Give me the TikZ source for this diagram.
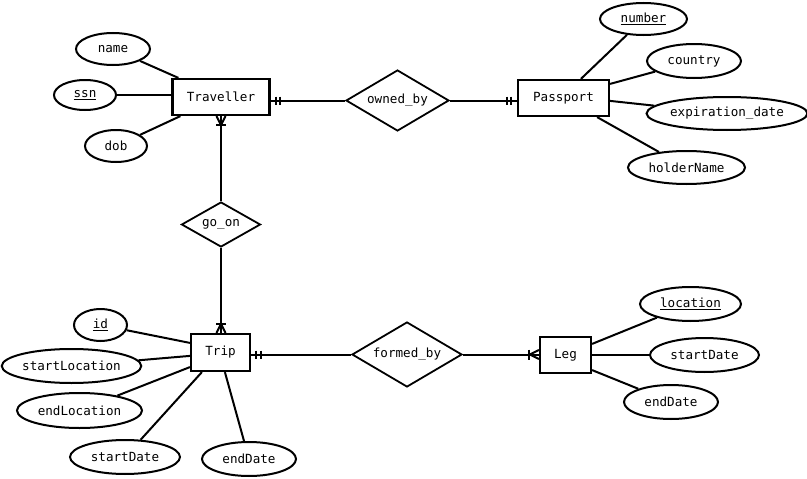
\documentclass[tikz,border=0pt]{standalone}
\usepackage{fontspec}
\setmainfont{DejaVu Sans Mono}
\usetikzlibrary{shapes.geometric,calc}
\begin{document}
\begin{tikzpicture}[x=1pt,y=-1pt,font=\fontsize{12.6}{14}\selectfont,
  ent/.style={draw, line width=2.2pt, minimum height=36pt, inner sep=0pt},
  attr/.style={draw, ellipse, line width=2pt, inner sep=0pt},
  rel/.style={draw, diamond, aspect=1.7, line width=1.8pt, inner sep=0pt},
  conn/.style={line width=2pt}]
\useasboundingbox (0,0) rectangle (807,479);
% entities
\node[ent, minimum width=97pt] (trav) at (221,97) {Traveller};
\node[ent, minimum width=91pt] (pass) at (563.5,98) {Passport};
\node[ent, minimum width=59pt, minimum height=37pt] (trip) at (220.5,352.5) {Trip};
\node[ent, minimum width=51pt] (leg) at (565.5,355) {Leg};
% relationships
\node[rel, minimum width=103pt, minimum height=61pt] (owned) at (397.5,100.5) {owned\_by};
\node[rel, minimum width=79pt, minimum height=45pt] (goon) at (221,224.5) {go\_on};
\node[rel, minimum width=110pt, minimum height=65pt] (formed) at (407,354.5) {formed\_by};
% attributes
\node[attr, minimum width=74pt, minimum height=32pt] (name) at (113,49) {name};
\node[attr, minimum width=62pt, minimum height=30pt] (ssn) at (85,95) {\underline{ssn}};
\node[attr, minimum width=62pt, minimum height=32pt] (dob) at (116,146) {dob};
\node[attr, minimum width=87pt, minimum height=32pt] (number) at (643.5,19) {\underline{number}};
\node[attr, minimum width=94pt, minimum height=34pt] (country) at (694,61) {country};
\node[attr, minimum width=156pt, minimum height=33pt] (exp) at (727,113.5) {expiration\_date};
\node[attr, minimum width=117pt, minimum height=33pt] (holder) at (686.5,167.5) {holderName};
\node[attr, minimum width=53pt, minimum height=32pt] (id) at (100.5,325) {\underline{id}};
\node[attr, minimum width=139pt, minimum height=34pt] (sloc) at (71.5,366) {startLocation};
\node[attr, minimum width=125pt, minimum height=35pt] (eloc) at (79.5,410.5) {endLocation};
\node[attr, minimum width=110pt, minimum height=34pt] (sdatet) at (125,457) {startDate};
\node[attr, minimum width=94pt, minimum height=34pt] (edatet) at (249,459) {endDate};
\node[attr, minimum width=101pt, minimum height=34pt] (loc) at (690.5,304) {\underline{location}};
\node[attr, minimum width=109pt, minimum height=34pt] (sdatel) at (704.5,355) {startDate};
\node[attr, minimum width=94pt, minimum height=34pt] (edatel) at (671,402) {endDate};
% attribute lines
\draw[conn] (name) -- ($(trav.north west)+(7,0)$);
\draw[conn] (ssn) -- (ssn -| trav.west);
\draw[conn] (dob) -- ($(trav.south west)+(9,0)$);
\draw[conn] (number) -- ($(pass.north west)+(64,0)$);
\draw[conn] (country) -- ($(pass.north east)+(0,5)$);
\draw[conn] (exp) -- ($(pass.north east)+(0,22)$);
\draw[conn] (holder) -- ($(pass.south east)+(-13,0)$);
\draw[conn] (id) -- ($(trip.north west)+(0,10)$);
\draw[conn] (sloc) -- ($(trip.north west)+(0,23)$);
\draw[conn] (eloc) -- ($(trip.south west)+(0,-5)$);
\draw[conn] (sdatet) -- ($(trip.south west)+(12,0)$);
\draw[conn] (edatet) -- ($(trip.south west)+(35,0)$);
\draw[conn] (loc) -- ($(leg.north east)+(0,8)$);
\draw[conn] (sdatel) -- (sdatel -| leg.east);
\draw[conn] (edatel) -- ($(leg.south east)+(0,-4)$);
% Traveller - owned_by - Passport
\coordinate (t1) at (owned.west -| trav.east);
\draw[conn] (t1) -- (owned.west);
\draw[conn] ($(t1)+(5,-4)$) -- ++(0,8);
\draw[conn] ($(t1)+(9,-4)$) -- ++(0,8);
\coordinate (p1) at (owned.east -| pass.west);
\draw[conn] (owned.east) -- (p1);
\draw[conn] ($(p1)+(-6,-4)$) -- ++(0,8);
\draw[conn] ($(p1)+(-10,-4)$) -- ++(0,8);
% Traveller - go_on - Trip
\draw[conn] (trav.south) -- (goon.north);
\draw[conn] ($(trav.south)+(-4.5,0)$) -- ($(trav.south)+(0,9)$) -- ($(trav.south)+(4.5,0)$);
\draw[conn] ($(trav.south)+(-5,9)$) -- ++(10,0);
\coordinate (t3) at (goon.south |- trip.north);
\draw[conn] (goon.south) -- (t3);
\draw[conn] ($(t3)+(-4.5,0)$) -- ($(t3)+(0,-9)$) -- ($(t3)+(4.5,0)$);
\draw[conn] ($(t3)+(-5,-9)$) -- ++(10,0);
% Trip - formed_by - Leg
\coordinate (t2) at (formed.west -| trip.east);
\draw[conn] (t2) -- (formed.west);
\draw[conn] ($(t2)+(5,-4)$) -- ++(0,8);
\draw[conn] ($(t2)+(10,-4)$) -- ++(0,8);
\coordinate (l1) at (formed.east -| leg.west);
\draw[conn] (formed.east) -- (l1);
\draw[conn] ($(l1)+(0,-4.5)$) -- ($(l1)+(-9,0)$) -- ($(l1)+(0,4.5)$);
\draw[conn] ($(l1)+(-10,-5)$) -- ++(0,10);
\end{tikzpicture}
\end{document}
